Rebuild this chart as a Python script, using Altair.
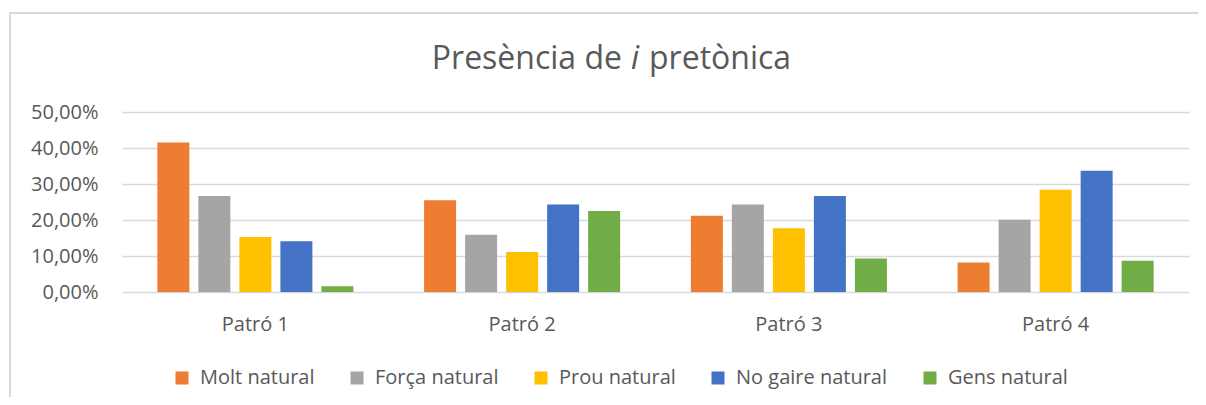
import altair as alt
import pandas as pd

patrons = ["Patró 1", "Patró 2", "Patró 3", "Patró 4"]
categories = ["Molt natural", "Força natural", "Prou natural", "No gaire natural", "Gens natural"]
colors = ["#ED7D31", "#A5A5A5", "#FFC000", "#4472C4", "#70AD47"]

molt = [0.415, 0.255, 0.212, 0.082]
forca = [0.267, 0.159, 0.243, 0.201]
prou = [0.153, 0.111, 0.177, 0.284]
no_gaire = [0.141, 0.243, 0.267, 0.337]
gens = [0.016, 0.225, 0.093, 0.087]

series = [molt, forca, prou, no_gaire, gens]
rows = []
for cat, vals in zip(categories, series):
    for p, v in zip(patrons, vals):
        rows.append({"patro": p, "cat": cat, "val": v})
df = pd.DataFrame(rows)

FONT = "Open Sans"
GRAY = "#595959"

bars = alt.Chart(df).mark_bar().encode(
    x=alt.X("patro:N", sort=patrons, title=None,
            scale=alt.Scale(paddingInner=0.265, paddingOuter=0.1325),
            axis=alt.Axis(labelAngle=0, ticks=False, domain=False, labelFontSize=20,
                          labelFont=FONT, labelColor=GRAY, labelBaseline="middle",
                          labelPadding=32, grid=False)),
    xOffset=alt.XOffset("cat:N", sort=categories,
                        scale=alt.Scale(paddingInner=0.22, paddingOuter=0)),
    y=alt.Y("val:Q", title=None, scale=alt.Scale(domain=[0, 0.5], nice=False),
            axis=alt.Axis(values=[0, 0.1, 0.2, 0.3, 0.4, 0.5], ticks=False, domain=False,
                          labelExpr="replace(format(datum.value, '.2%'), '.', ',')",
                          labelFontSize=20, labelFont=FONT, labelColor=GRAY,
                          labelPadding=24, gridColor="#d9d9d9", gridWidth=1.3)),
    color=alt.Color("cat:N", sort=categories,
                    scale=alt.Scale(domain=categories, range=colors),
                    legend=alt.Legend(title=None, orient="none", direction="horizontal",
                                      legendX=50, legendY=256, symbolType="square",
                                      symbolSize=169, symbolStrokeWidth=0,
                                      labelFontSize=20, labelFont=FONT, labelColor=GRAY,
                                      labelOffset=8, columnPadding=32, labelLimit=400)),
)

one = pd.DataFrame({"k": [0]})
title_style = dict(font=FONT, fontSize=32, color=GRAY, baseline="alphabetic")
t1 = alt.Chart(one).mark_text(align="right", **title_style).encode(
    x=alt.value(500), y=alt.value(-43), text=alt.value("Presència de"))
t2 = alt.Chart(one).mark_text(align="center", fontStyle="italic", **title_style).encode(
    x=alt.value(513), y=alt.value(-43), text=alt.value("i"))
t3 = alt.Chart(one).mark_text(align="left", **title_style).encode(
    x=alt.value(527), y=alt.value(-43), text=alt.value("pretònica"))

border_v = alt.Chart(one).mark_rule(color="#d9d9d9", strokeWidth=2).encode(
    x=alt.value(-112), y=alt.value(-100), y2=alt.value(285))
border_h = alt.Chart(one).mark_rule(color="#d9d9d9", strokeWidth=2).encode(
    x=alt.value(-113), x2=alt.value(1076), y=alt.value(-99))

chart = alt.layer(border_v, border_h, bars, t1, t2, t3).properties(
    width=1067, height=180,
    autosize=alt.AutoSizeParams(type="none"),
    padding={"left": 114, "top": 104, "right": 9, "bottom": 105},
    background="white",
).configure_view(stroke=None)

chart.save("out.html", embed_options={"renderer": "svg", "actions": False})
